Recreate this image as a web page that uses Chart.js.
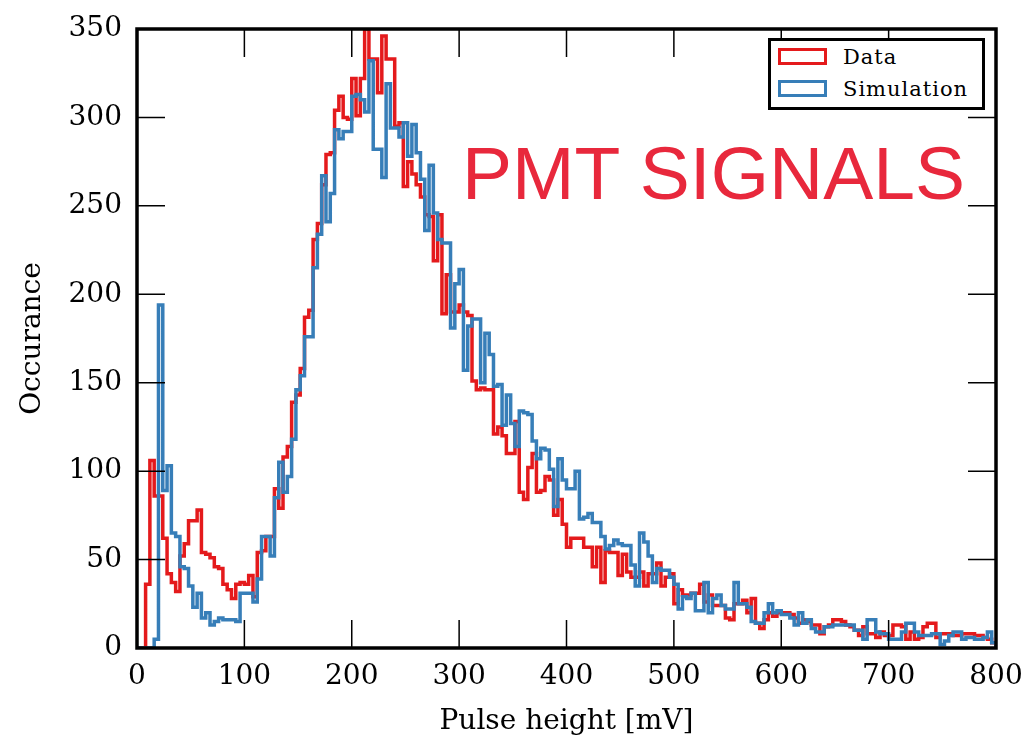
<!DOCTYPE html>
<html lang="en">
<head>
<meta charset="UTF-8">
<title>PMT signals</title>
<script src="https://cdn.jsdelivr.net/npm/chart.js"></script>
<style>
  body { margin: 0; background: #fff; }
  .wrap { position: relative; width: 1025px; height: 746px; }
  #stamp {
    position: absolute; left: 462px; top: 136px;
    font: 75px/75px "Liberation Sans", Arial, sans-serif;
    color: #e8283c; white-space: nowrap;
  }
  .legend {
    position: absolute; left: 768px; top: 38px;
    width: 211px; height: 66px;
    border: 3px solid #000; background: #fff;
    font: 21px "DejaVu Serif", serif; letter-spacing: 1px; color: #000;
  }
  .legend .swatch { position: absolute; left: 7px; width: 43px; height: 11px; border: 3px solid; background: #fff; }
  .legend .label { position: absolute; left: 72px; line-height: 24px; white-space: nowrap; }
</style>
</head>
<body>
<div class="wrap">
  <canvas id="pulseChart" width="1025" height="746"></canvas>
  <div id="stamp">PMT SIGNALS</div>
  <div class="legend">
    <div class="swatch" style="top:7px; border-color:#e41a1c"></div>
    <div class="label" style="top:4px">Data</div>
    <div class="swatch" style="top:39px; border-color:#377eb8"></div>
    <div class="label" style="top:36px">Simulation</div>
  </div>
</div>

<script>
// histogram bins: 4 mV wide, starting at 0 mV
const binStart = 0;
const binWidth = 4;

// measured pulse heights (counts per bin)
const dataCounts = [
  0, 0, 36, 106, 86, 86, 62, 42, 37, 32,
  52, 59, 72, 72, 78, 54, 53, 51, 46, 45,
  36, 33, 28, 36, 37, 36, 41, 29, 54, 55,
  63, 63, 90, 79, 108, 114, 139, 143, 158, 187,
  191, 231, 240, 262, 279, 280, 304, 312, 300, 299,
  322, 301, 322, 350, 333, 333, 314, 346, 333, 333,
  295, 297, 261, 275, 268, 262, 255, 245, 244, 219,
  245, 189, 211, 190, 190, 194, 190, 188, 151, 146,
  147, 146, 146, 121, 125, 120, 110, 110, 128, 88,
  84, 102, 110, 88, 89, 97, 95, 75, 84, 70,
  57, 62, 62, 62, 57, 57, 46, 57, 37, 55,
  54, 54, 41, 53, 43, 40, 40, 43, 35, 42,
  42, 48, 35, 40, 42, 25, 33, 30, 30, 31,
  31, 36, 26, 30, 24, 24, 24, 17, 16, 25,
  25, 27, 20, 28, 14, 11, 16, 20, 18, 20,
  20, 20, 19, 17, 14, 16, 15, 13, 13, 8,
  12, 13, 16, 16, 15, 13, 12, 10, 7, 12,
  8, 8, 6, 9, 7, 7, 13, 13, 12, 5,
  9, 5, 6, 12, 14, 14, 6, 8, 8, 8,
  7, 7, 8, 8, 8, 7, 7, 6, 5, 3
];

// simulated pulse heights (counts per bin)
const simCounts = [
  0, 0, 0, 0, 5, 194, 89, 103, 65, 63,
  46, 45, 35, 23, 31, 17, 20, 13, 15, 17,
  16, 16, 16, 15, 31, 31, 31, 26, 39, 63,
  63, 52, 85, 105, 88, 97, 118, 146, 154, 176,
  176, 215, 234, 267, 241, 257, 293, 288, 292, 292,
  312, 313, 310, 303, 332, 282, 282, 266, 319, 294,
  294, 289, 297, 278, 296, 280, 265, 236, 273, 246,
  231, 229, 229, 181, 206, 214, 157, 182, 186, 186,
  150, 178, 166, 148, 149, 126, 143, 127, 114, 134,
  133, 132, 117, 107, 113, 112, 101, 80, 107, 95,
  90, 90, 100, 73, 74, 76, 71, 71, 63, 56,
  58, 61, 59, 58, 58, 47, 35, 65, 60, 52,
  37, 45, 44, 44, 40, 36, 22, 29, 28, 31,
  21, 21, 37, 20, 28, 30, 24, 22, 22, 37,
  25, 25, 23, 15, 14, 14, 20, 25, 20, 21,
  19, 19, 17, 13, 20, 14, 16, 11, 9, 9,
  12, 12, 13, 13, 13, 13, 13, 10, 10, 5,
  16, 16, 9, 8, 8, 5, 5, 5, 9, 14,
  14, 9, 7, 7, 7, 8, 8, 2, 4, 7,
  9, 9, 5, 6, 6, 5, 5, 6, 9, 3
];

const xMin = 0, xMax = 800, xStep = 100;
const yMin = 0, yMax = 350, yStep = 50;

// step outline: each count is held from its bin's left edge to the next edge
function stepPoints(counts) {
  const pts = [{ x: binStart, y: 0 }];
  counts.forEach((c, i) => pts.push({ x: binStart + i * binWidth, y: c }));
  const end = binStart + counts.length * binWidth;
  pts.push({ x: end, y: counts[counts.length - 1] });
  pts.push({ x: end, y: 0 });
  return pts;
}

// matplotlib-like box with inward ticks on all four sides
const frameTicks = {
  id: 'frameTicks',
  afterDatasetsDraw(chart) {
    const { ctx, chartArea: a, scales: { x, y } } = chart;
    const len = 28;
    ctx.save();
    ctx.strokeStyle = '#000';
    ctx.lineWidth = 1.5;
    ctx.beginPath();
    x.ticks.forEach(t => {
      const px = x.getPixelForValue(t.value);
      ctx.moveTo(px, a.bottom); ctx.lineTo(px, a.bottom - len);
      ctx.moveTo(px, a.top); ctx.lineTo(px, a.top + len);
    });
    y.ticks.forEach(t => {
      const py = y.getPixelForValue(t.value);
      ctx.moveTo(a.left, py); ctx.lineTo(a.left + len, py);
      ctx.moveTo(a.right, py); ctx.lineTo(a.right - len, py);
    });
    ctx.stroke();
    ctx.lineWidth = 3.5;
    ctx.strokeRect(a.left, a.top, a.right - a.left, a.bottom - a.top);
    ctx.restore();
  }
};

const serif = '"DejaVu Serif", "Liberation Serif", serif';

new Chart(document.getElementById('pulseChart').getContext('2d'), {
  type: 'line',
  data: {
    datasets: [
      {
        label: 'Data',
        data: stepPoints(dataCounts),
        borderColor: '#e41a1c',
        borderWidth: 3.5,
        stepped: 'before',
        pointRadius: 0,
        fill: false,
        order: 1
      },
      {
        label: 'Simulation',
        data: stepPoints(simCounts),
        borderColor: '#377eb8',
        borderWidth: 3.5,
        stepped: 'before',
        pointRadius: 0,
        fill: false,
        order: 0
      }
    ]
  },
  options: {
    responsive: false,
    animation: false,
    devicePixelRatio: 1,
    layout: { padding: { top: 29, right: 29, left: 0, bottom: 0 } },
    plugins: {
      legend: { display: false },
      tooltip: { enabled: false }
    },
    scales: {
      x: {
        type: 'linear',
        min: xMin, max: xMax,
        grid: { display: false, drawTicks: false },
        border: { display: false },
        ticks: {
          stepSize: xStep, autoSkip: false, maxRotation: 0, padding: 12,
          color: '#000', font: { family: serif, size: 28 }
        },
        title: {
          display: true, text: 'Pulse height [mV]', color: '#000',
          font: { family: serif, size: 28 }, padding: { top: 0, bottom: 7 }
        },
        afterFit(s) { s.height = 98; s.paddingLeft = 0; s.paddingRight = 0; }
      },
      y: {
        min: yMin, max: yMax,
        grid: { display: false, drawTicks: false },
        border: { display: false },
        ticks: {
          stepSize: yStep, padding: 15,
          color: '#000', font: { family: serif, size: 28 }
        },
        title: {
          display: true, text: 'Occurance', color: '#000',
          font: { family: serif, size: 28 }, padding: { top: 16, bottom: 0 }
        },
        afterFit(s) { s.width = 137; s.paddingTop = 0; s.paddingBottom = 0; }
      }
    }
  },
  plugins: [frameTicks]
});
</script>
</body>
</html>
